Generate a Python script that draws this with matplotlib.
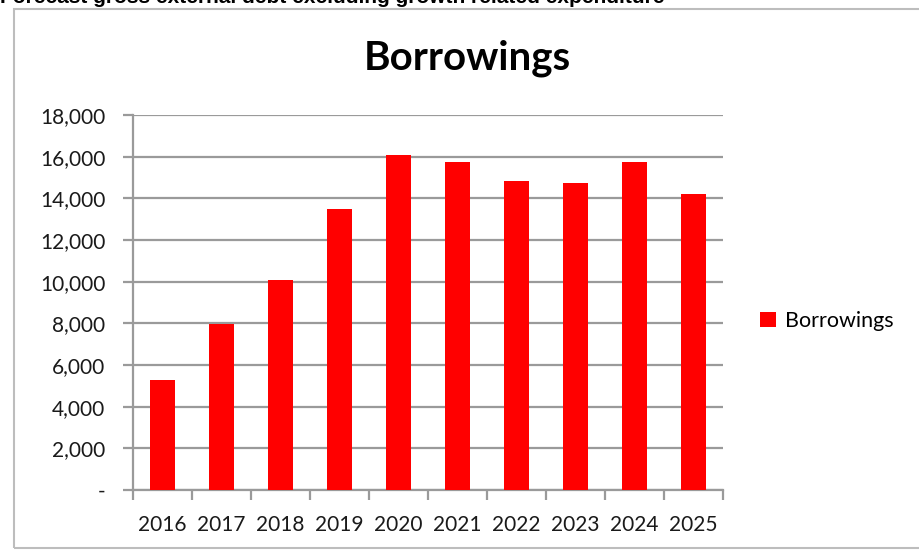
import matplotlib
matplotlib.use("Agg")
import matplotlib.pyplot as plt
from matplotlib.patches import Rectangle
from matplotlib.ticker import FuncFormatter, MultipleLocator
import numpy as np

years = ["2016", "2017", "2018", "2019", "2020", "2021", "2022", "2023", "2024", "2025"]
borrowings = [5300, 7950, 10100, 13500, 16100, 15750, 14850, 14750, 15750, 14200]
series_name = "Borrowings"
chart_title = "Borrowings"
header = "Forecast gross external debt excluding growth related expenditure"

W, H = 920, 552
fig = plt.figure(figsize=(W / 100, H / 100), dpi=100)
fig.patch.set_facecolor("white")

# outer chart frame
fig.patches.append(Rectangle((14 / W, 1 - 548 / H), (W + 10 - 14) / W, (548 - 9) / H,
                             transform=fig.transFigure, fill=False,
                             edgecolor="#BDBDBD", linewidth=1.5))

# header text, clipped at the top as in the reference
fig.text(0.0, 1 - 3 / H, header, fontfamily="Liberation Sans", fontweight="bold",
         fontsize=15, ha="left", va="baseline", color="black")

left, right = 133, 723
top, bottom = 115, 490
ax = fig.add_axes([left / W, 1 - bottom / H, (right - left) / W, (bottom - top) / H])

x = np.arange(len(years))
ax.bar(x, borrowings, width=0.44, color="#FF0000", label=series_name, zorder=3)

ax.set_xlim(-0.5, len(years) - 0.5)
ax.set_ylim(0, 18000)
ax.yaxis.set_major_locator(MultipleLocator(2000))
ax.yaxis.set_major_formatter(FuncFormatter(lambda v, p: "-" if v == 0 else f"{int(v):,}"))

grid_c = "#9A9A9A"
ax.grid(axis="y", color=grid_c, linewidth=1.6, zorder=0)
for s in ["top", "right"]:
    ax.spines[s].set_visible(False)
for s in ["left", "bottom"]:
    ax.spines[s].set_color(grid_c)
    ax.spines[s].set_linewidth(1.6)

ax.set_xticks(x)
ax.set_xticklabels(years)
ax.set_xticks(np.arange(-0.5, len(years), 1.0), minor=True)
ax.tick_params(axis="x", which="major", length=0, pad=18)
ax.tick_params(axis="x", which="minor", length=7, width=1.6, color=grid_c)
ax.tick_params(axis="y", which="major", length=7, width=1.6, color=grid_c, pad=13)

for lab in ax.get_xticklabels() + ax.get_yticklabels():
    lab.set_fontfamily("Lato")
    lab.set_fontsize(15)
    lab.set_color("#1a1a1a")

fig.text(467 / W, 1 - 58 / H, chart_title, fontfamily="Lato", fontweight="bold",
         fontsize=29, ha="center", va="center", color="black")

leg = fig.legend(loc="center left", bbox_to_anchor=(760 / W, 1 - 321 / H), frameon=False,
                 prop={"family": "Lato", "size": 15.5}, handlelength=0.75, handleheight=0.75,
                 handletextpad=0.4, borderpad=0, borderaxespad=0)

fig.savefig("out.png", dpi=100, facecolor="white")
